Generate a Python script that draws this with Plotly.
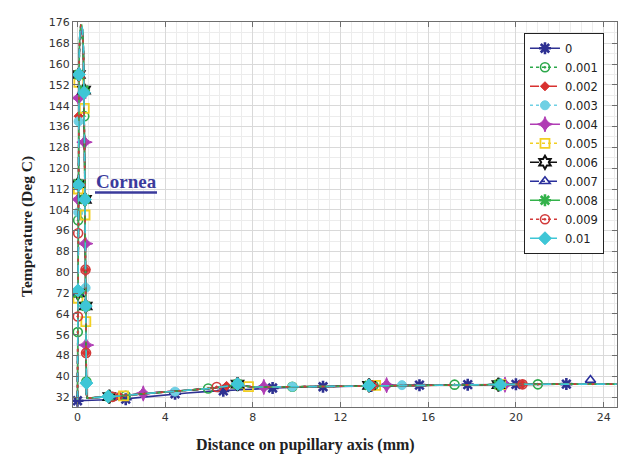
import plotly.graph_objects as go

# ---- data -----------------------------------------------------------------
SERIES = ["0", "0.001", "0.002", "0.003", "0.004", "0.005",
          "0.006", "0.007", "0.008", "0.009", "0.01"]

# unheated profile (series "0")
X_BASE = [0, 1, 2, 3, 4, 5, 6, 7, 8, 9, 10, 12, 14, 16, 18, 20, 22, 24, 24.6]
T_BASE = [30.6, 30.9, 31.2, 32.0, 32.9, 33.6, 34.2, 34.7, 35.2, 35.5, 35.8,
          36.2, 36.4, 36.6, 36.8, 36.9, 37.0, 37.0, 37.0]

# distance grid of the heated runs (mm)
X_HEAT = [0, 0.02, 0.04, 0.06, 0.08, 0.11, 0.15, 0.19, 0.23, 0.27, 0.30, 0.33,
          0.36, 0.39, 0.41, 0.45, 1, 1.5, 2, 3, 4, 5, 6, 7, 7.3, 7.6, 8, 9,
          10, 12, 14, 16, 18, 20, 22, 24, 24.6]

T_001 = [31.0, 74, 118, 148, 162, 169, 171, 171, 169, 162, 147, 118, 84, 50, 33, 31.6,
         31.9, 32.2, 32.5, 33.3, 34.0, 34.7, 35.3, 36.3, 36.8, 36.2, 35.9, 35.9,
         36.0, 36.3, 36.5, 36.7, 36.8, 36.9, 37.0, 37.0, 37.0]
T_002 = [31.0, 74, 119, 149, 163, 170, 172, 172, 170, 163, 148, 119, 84, 50, 33, 31.6,
         31.9, 32.2, 32.5, 33.3, 34.0, 34.6, 35.3, 36.3, 36.9, 36.2, 35.9, 35.9,
         36.0, 36.3, 36.5, 36.7, 36.8, 36.9, 37.0, 37.0, 37.0]
T_003 = [31.0, 75, 119, 149, 163, 170, 173, 173, 171, 164, 148, 119, 85, 50, 33, 31.6,
         31.9, 32.2, 32.5, 33.3, 34.0, 34.6, 35.3, 36.4, 36.9, 36.3, 35.9, 35.9,
         36.0, 36.3, 36.5, 36.7, 36.8, 36.9, 37.0, 37.0, 37.0]
T_004 = [31.0, 75, 120, 149, 164, 171, 173, 173, 171, 164, 149, 120, 85, 50, 33, 31.6,
         31.9, 32.2, 32.5, 33.4, 34.0, 34.6, 35.3, 36.4, 37.0, 36.3, 35.9, 35.9,
         36.0, 36.3, 36.5, 36.7, 36.8, 36.9, 37.0, 37.0, 37.0]
T_005 = [31.0, 75, 120, 150, 164, 171, 174, 174, 172, 165, 149, 120, 85, 50, 33, 31.6,
         31.9, 32.2, 32.5, 33.3, 34.0, 34.6, 35.3, 36.4, 37.0, 36.3, 35.9, 35.9,
         36.0, 36.3, 36.5, 36.7, 36.8, 36.9, 37.0, 37.0, 37.0]
T_006 = [31.0, 75, 120, 150, 165, 172, 174, 174, 172, 165, 150, 120, 85, 50, 33, 31.6,
         31.9, 32.2, 32.5, 33.3, 34.0, 34.6, 35.3, 36.4, 37.0, 36.3, 35.9, 35.9,
         36.0, 36.3, 36.5, 36.7, 36.8, 36.9, 37.0, 37.0, 37.0]
T_007 = [31.0, 75, 120, 150, 165, 172, 175, 175, 173, 166, 150, 120, 85, 50, 33, 31.6,
         31.9, 32.2, 32.5, 33.3, 34.0, 34.6, 35.3, 36.4, 37.0, 36.3, 35.9, 35.9,
         36.0, 36.3, 36.5, 36.7, 36.8, 36.9, 37.0, 37.2, 37.0]
T_008 = [31.0, 75, 120, 150, 165, 172, 175, 175, 173, 166, 150, 120, 85, 50, 33, 31.6,
         31.9, 32.2, 32.5, 33.3, 34.0, 34.6, 35.3, 36.4, 37.0, 36.3, 35.9, 35.9,
         36.0, 36.3, 36.5, 36.7, 36.8, 36.9, 37.0, 37.0, 37.0]
T_009 = [31.0, 75, 120, 150, 165, 172, 175, 175, 173, 166, 150, 120, 85, 50, 33, 31.6,
         31.9, 32.2, 32.5, 33.3, 34.0, 34.6, 35.3, 36.4, 37.0, 36.3, 35.9, 35.9,
         36.0, 36.3, 36.5, 36.7, 36.8, 36.9, 37.0, 37.0, 37.0]
T_010 = [31.0, 75, 120, 150, 165, 172, 175.2, 175.2, 173, 166, 150, 120, 85, 50, 33, 31.6,
         31.9, 32.2, 32.5, 33.3, 34.0, 34.6, 35.3, 36.4, 37.0, 36.3, 35.9, 35.9,
         36.0, 36.3, 36.5, 36.7, 36.8, 36.9, 37.0, 37.0, 37.0]

# marker positions along each profile
MX_000 = [0, 2.2, 4.45, 6.65, 8.9, 11.2, 13.4, 15.6, 17.8, 20.0, 22.3]
MY_000 = [30.6, 31.2, 33.3, 34.4, 35.5, 36.0, 36.3, 36.6, 36.8, 36.9, 37.0]
MX_001 = [0.012, 0.03, 0.062, 0.31, 0.405, 2.2, 5.96, 9.8, 13.5, 17.2, 21.0]
MY_001 = [57, 100, 156, 140, 38, 32.5, 35.3, 36.0, 36.5, 36.8, 36.9]
MX_002 = [0.02, 0.05, 0.365, 0.39, 1.9, 6.8, 13.5, 20.3]
MY_002 = [72, 140, 81, 49, 32.4, 36.3, 36.5, 36.9]
MX_003 = [0.033, 0.048, 0.37, 4.45, 9.8, 14.8]
MY_003 = [103, 138, 74, 34.1, 36.0, 36.6]
MX_004 = [0.037, 0.054, 0.32, 0.355, 0.39, 3.0, 8.5, 14.1, 19.5]
MY_004 = [108, 147, 130, 91, 52, 33.4, 35.9, 36.6, 36.8]
MX_005 = [0.02, 0.04, 0.062, 0.31, 0.345, 0.38, 2.1, 7.8, 13.6, 19.3]
MY_005 = [70, 112, 153, 143, 102, 61, 32.5, 36.0, 36.5, 36.8]
MX_006 = [0.02, 0.037, 0.062, 0.30, 0.34, 0.375, 1.45, 7.3, 13.3, 19.2]
MY_006 = [72, 114, 156, 150, 108, 67, 32.2, 37.0, 36.5, 36.8]
MX_007 = [0.02, 0.037, 0.062, 0.30, 0.34, 0.375, 1.5, 7.3, 13.3, 19.2, 23.4]
MY_007 = [72, 114, 156, 150, 108, 67, 32.2, 37.0, 36.5, 36.8, 38.6]
MX_008 = [0.02, 0.037, 0.062, 0.30, 0.34, 0.375, 1.45, 7.3, 13.3, 19.2]
MY_008 = [72, 114, 156, 150, 108, 67, 32.2, 37.0, 36.5, 36.8]
MX_009 = [0.015, 0.03, 0.365, 0.39, 1.6, 6.35, 13.4, 20.3]
MY_009 = [63, 95, 81, 49, 32.1, 35.9, 36.5, 36.9]
MX_010 = [0.02, 0.037, 0.062, 0.30, 0.34, 0.375, 0.405, 1.4, 7.3, 13.3, 19.3]
MY_010 = [73, 113.5, 156, 149, 108, 67, 37.4, 32.2, 37.0, 36.5, 36.8]

Y_TICKS = list(range(32, 177, 8))
X_TICKS = [0, 4, 8, 12, 16, 20, 24]

# ---- styles ---------------------------------------------------------------
STYLES = [
    # color, dash, symbol, size, marker line width
    ("#2e3192", "solid", "asterisk-open", 10, 2.6),
    ("#2ca84a", "dot", "circle-open-dot", 9, 1.6),
    ("#d8312f", "dash", "diamond", 7, 1.0),
    ("#6fd0e4", "dot", "circle", 9, 1.0),
    ("#b03cb4", "solid", "star-diamond", 11, 1.0),
    ("#f2cf22", "dot", "square-open", 9, 1.8),
    ("#111111", "dash", "hexagram-open", 10, 2.0),
    ("#2a2f9c", "dashdot", "triangle-up-open", 9, 1.6),
    ("#33b24a", "solid", "asterisk-open", 10, 2.6),
    ("#d23a3a", "dot", "circle-open-dot", 9, 1.6),
    ("#3ec6d6", "dash", "diamond", 10, 1.0),
]

CURVES = [(X_BASE, T_BASE), (X_HEAT, T_001), (X_HEAT, T_002), (X_HEAT, T_003),
          (X_HEAT, T_004), (X_HEAT, T_005), (X_HEAT, T_006), (X_HEAT, T_007),
          (X_HEAT, T_008), (X_HEAT, T_009), (X_HEAT, T_010)]
MARKS = [(MX_000, MY_000), (MX_001, MY_001), (MX_002, MY_002), (MX_003, MY_003),
         (MX_004, MY_004), (MX_005, MY_005), (MX_006, MY_006), (MX_007, MY_007),
         (MX_008, MY_008), (MX_009, MY_009), (MX_010, MY_010)]

fig = go.Figure()

for name, (cx, cy), (mx, my), st in zip(SERIES, CURVES, MARKS, STYLES):
    color, dash, symbol, size, lw = st
    marker = dict(symbol=symbol, size=size, color=color,
                  line=dict(color=color, width=lw))
    line = dict(color=color, width=1.6, dash=dash)
    fig.add_trace(go.Scatter(x=cx, y=cy, mode="lines", line=line,
                             legendgroup=name, showlegend=False,
                             hoverinfo="skip"))
    fig.add_trace(go.Scatter(x=mx, y=my, mode="markers", marker=marker,
                             legendgroup=name, showlegend=False, name=name))
    # legend entry combining line and marker
    fig.add_trace(go.Scatter(x=[None], y=[None], mode="lines+markers",
                             line=line, marker=marker, name=name,
                             legendgroup=name))

AXIS_COMMON = dict(
    showline=True, linecolor="#6e6e6e", linewidth=1, mirror="ticks",
    ticks="inside", ticklen=5, tickcolor="#6e6e6e",
    showgrid=True, gridcolor="#d9d9d9", gridwidth=1, zeroline=False,
    tickfont=dict(family="DejaVu Sans", size=11, color="#333333"),
)

fig.update_xaxes(range=[-0.205, 24.61], tickvals=X_TICKS,
                 minor=dict(dtick=0.5, tick0=0, showgrid=True,
                            gridcolor="#ececec", ticks=""),
                 **AXIS_COMMON)
fig.update_yaxes(range=[28.2, 176.2], tickvals=Y_TICKS,
                 minor=dict(dtick=4, tick0=0, showgrid=True,
                            gridcolor="#ececec", ticks=""),
                 **AXIS_COMMON)

fig.update_layout(
    width=620, height=456,
    margin=dict(l=73, r=3, t=22, b=49),
    paper_bgcolor="white", plot_bgcolor="white",
    showlegend=True,
    legend=dict(x=0.829, y=0.972, xanchor="left", yanchor="top",
                bgcolor="white", bordercolor="#222222", borderwidth=1,
                font=dict(family="DejaVu Sans", size=11.5, color="#222222"),
                tracegroupgap=0),
    annotations=[
        dict(text="<b>Distance on pupillary axis (mm)</b>", xref="paper", yref="paper",
             x=0.4265, y=-0.0987, xanchor="center", yanchor="middle", showarrow=False,
             font=dict(family="Liberation Serif", size=16, color="#222222")),
        dict(text="<b>Temperature (Deg C)</b>", xref="paper", yref="paper",
             x=-0.0846, y=0.47, xanchor="center", yanchor="middle", showarrow=False,
             textangle=-90,
             font=dict(family="Liberation Serif", size=15.5, color="#222222")),
        dict(text="<b>Cornea</b>", xref="paper", yref="paper",
             x=(126 - 73) / 544, y=(407 - 181) / 385, xanchor="center", yanchor="middle",
             showarrow=False,
             font=dict(family="Liberation Serif", size=19, color="#3b3b9c")),
    ],
    shapes=[
        dict(type="line", xref="paper", yref="paper",
             x0=(95 - 73) / 544, x1=(157 - 73) / 544,
             y0=(407 - 192.5) / 385, y1=(407 - 192.5) / 385,
             line=dict(color="#3b3b9c", width=2.5)),
    ],
)

fig.write_html("out.html")
